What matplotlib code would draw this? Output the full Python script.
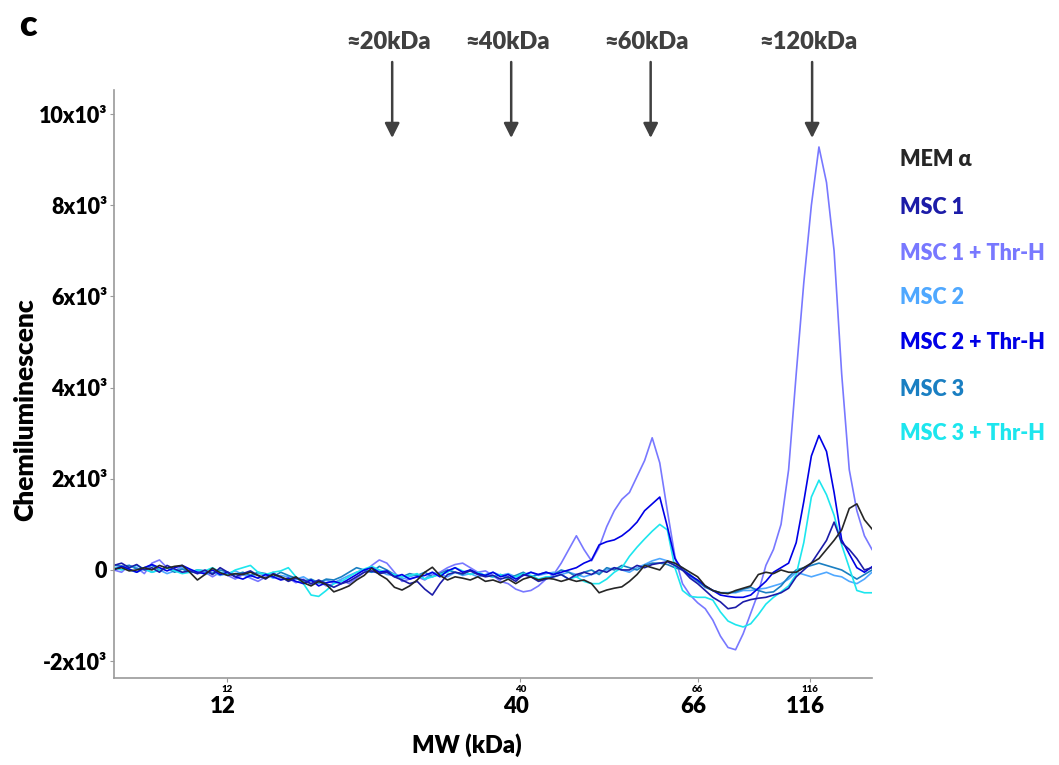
import matplotlib
matplotlib.use("Agg")
import matplotlib.pyplot as plt
import numpy as np

plt.rcParams['font.family'] = ['Lato', 'DejaVu Sans']
plt.rcParams['font.weight'] = 'heavy'
FW = 'heavy'

# lane position (arbitrary migration units, 0..100)
lane_pos = list(range(101))

# Chemiluminescence in thousands
mem_alpha = [
    0.02, 0.05, -0.02, 0.00, 0.05, 0.00, 0.10, 0.04, 0.08, 0.10,
    -0.05, -0.22, -0.10, 0.04, -0.06, -0.12, -0.08, -0.10, -0.05, -0.12,
    -0.18, -0.10, -0.15, -0.22, -0.15, -0.28, -0.35, -0.25, -0.32, -0.48,
    -0.42, -0.35, -0.22, -0.12, 0.04, -0.10, -0.20, -0.38, -0.44, -0.35,
    -0.22, -0.05, 0.06, -0.12, -0.22, -0.15, -0.18, -0.22, -0.15, -0.25,
    -0.22, -0.28, -0.20, -0.30, -0.20, -0.15, -0.22, -0.18, -0.20, -0.25,
    -0.20, -0.25, -0.22, -0.30, -0.50, -0.44, -0.40, -0.37, -0.25, -0.10,
    0.10, 0.05, 0.00, 0.20, 0.15, 0.05, -0.05, -0.15, -0.35, -0.45,
    -0.50, -0.52, -0.45, -0.40, -0.35, -0.10, -0.05, -0.08, 0.00, -0.05,
    -0.05, 0.05, 0.15, 0.25, 0.45, 0.65, 0.88, 1.35, 1.45, 1.10,
    0.90]

msc1 = [
    0.10, 0.15, 0.05, 0.12, 0.00, 0.05, -0.05, 0.10, 0.02, -0.05,
    -0.02, -0.08, 0.00, -0.10, 0.05, -0.05, -0.15, -0.08, -0.02, -0.12,
    -0.20, -0.08, -0.15, -0.25, -0.18, -0.22, -0.30, -0.22, -0.30, -0.38,
    -0.30, -0.25, -0.15, -0.05, -0.02, -0.08, -0.05, -0.15, -0.22, -0.30,
    -0.25, -0.42, -0.55, -0.30, -0.10, -0.05, -0.08, -0.02, -0.10, -0.15,
    -0.12, -0.20, -0.15, -0.25, -0.10, -0.15, -0.25, -0.20, -0.15, -0.10,
    -0.20, -0.10, -0.05, -0.10, 0.00, -0.05, 0.05, 0.00, 0.00, 0.10,
    0.05, 0.12, 0.15, 0.18, 0.10, 0.00, -0.18, -0.30, -0.45, -0.60,
    -0.70, -0.85, -0.82, -0.70, -0.65, -0.62, -0.60, -0.55, -0.50, -0.40,
    -0.15, 0.00, 0.15, 0.40, 0.65, 1.05, 0.60, 0.45, 0.25, 0.00,
    0.05]

msc1_thr = [
    0.00, -0.05, 0.10, 0.05, -0.08, 0.15, 0.22, 0.05, -0.02, 0.08,
    0.00, -0.08, -0.05, -0.15, -0.05, -0.12, -0.20, -0.10, -0.18, -0.25,
    -0.15, -0.05, -0.20, -0.18, -0.28, -0.20, -0.32, -0.25, -0.35, -0.30,
    -0.22, -0.30, -0.18, -0.05, 0.10, 0.22, 0.15, -0.05, -0.25, -0.20,
    -0.15, -0.22, -0.10, -0.05, 0.05, 0.12, 0.15, 0.05, -0.05, -0.02,
    -0.12, -0.25, -0.30, -0.42, -0.48, -0.45, -0.35, -0.20, -0.10, 0.15,
    0.45, 0.75, 0.45, 0.20, 0.50, 0.95, 1.30, 1.55, 1.70, 2.05,
    2.40, 2.90, 2.35, 1.30, 0.30, -0.30, -0.55, -0.72, -0.85, -1.10,
    -1.45, -1.70, -1.75, -1.40, -0.95, -0.50, 0.10, 0.45, 1.00, 2.20,
    4.30, 6.30, 8.00, 9.28, 8.50, 7.00, 4.30, 2.20, 1.30, 0.75,
    0.45]

msc2 = [
    0.05, 0.08, 0.00, -0.05, 0.02, -0.05, 0.00, -0.08, -0.02, 0.05,
    -0.05, -0.02, -0.10, -0.05, -0.12, -0.08, -0.02, -0.10, -0.15, -0.08,
    -0.10, -0.18, -0.12, -0.15, -0.20, -0.15, -0.25, -0.30, -0.22, -0.28,
    -0.20, -0.12, -0.05, 0.00, -0.05, -0.02, -0.10, -0.12, -0.20, -0.15,
    -0.10, -0.20, -0.05, -0.10, -0.15, -0.05, -0.12, -0.08, -0.15, -0.10,
    -0.05, -0.12, -0.08, -0.15, -0.10, -0.05, -0.12, -0.08, -0.05, -0.10,
    -0.05, -0.10, -0.15, -0.10, -0.05, 0.00, 0.05, 0.00, -0.05, 0.05,
    0.12, 0.20, 0.25, 0.20, 0.10, 0.05, -0.15, -0.25, -0.35, -0.45,
    -0.50, -0.50, -0.50, -0.45, -0.45, -0.42, -0.40, -0.35, -0.30, -0.20,
    -0.05, -0.10, -0.15, -0.10, -0.05, -0.12, -0.15, -0.25, -0.30, -0.20,
    -0.05]

msc2_thr = [
    0.00, 0.08, 0.02, -0.05, 0.05, 0.12, 0.05, -0.02, 0.05, 0.10,
    0.02, -0.05, -0.08, 0.00, -0.10, -0.05, -0.15, -0.20, -0.12, -0.18,
    -0.10, -0.15, -0.22, -0.18, -0.25, -0.30, -0.22, -0.35, -0.28, -0.25,
    -0.30, -0.20, -0.10, 0.00, 0.05, -0.05, -0.02, -0.15, -0.10, -0.20,
    -0.15, -0.12, -0.05, -0.15, -0.02, 0.05, -0.05, 0.00, -0.08, -0.12,
    -0.05, -0.15, -0.10, -0.20, -0.12, -0.05, -0.10, -0.05, -0.10, -0.05,
    0.00, 0.05, 0.15, 0.22, 0.55, 0.62, 0.66, 0.75, 0.88, 1.05,
    1.30, 1.45, 1.60, 0.95, 0.25, 0.00, -0.12, -0.22, -0.35, -0.45,
    -0.55, -0.58, -0.60, -0.60, -0.55, -0.40, -0.25, -0.05, 0.05, 0.15,
    0.60, 1.50, 2.50, 2.95, 2.60, 1.70, 0.66, 0.35, 0.05, -0.05,
    0.07]

msc3 = [
    0.12, 0.08, 0.10, 0.02, 0.05, 0.10, 0.00, 0.05, -0.05, 0.02,
    -0.05, 0.00, -0.02, -0.08, 0.00, -0.05, -0.10, -0.05, -0.12, -0.05,
    -0.08, -0.15, -0.05, -0.12, -0.18, -0.25, -0.20, -0.28, -0.20, -0.22,
    -0.15, -0.05, 0.05, 0.00, -0.05, 0.08, 0.00, -0.10, -0.15, -0.08,
    -0.12, -0.05, -0.15, -0.08, 0.00, -0.05, -0.10, 0.00, -0.08, -0.12,
    -0.15, -0.10, -0.18, -0.12, -0.05, -0.15, -0.10, -0.05, -0.10, 0.00,
    -0.05, -0.15, -0.05, 0.00, -0.10, 0.05, 0.00, 0.10, 0.05, 0.00,
    0.10, 0.15, 0.15, 0.12, 0.05, 0.00, -0.10, -0.25, -0.38, -0.45,
    -0.50, -0.50, -0.48, -0.42, -0.38, -0.45, -0.50, -0.48, -0.35, -0.15,
    0.00, 0.05, 0.10, 0.15, 0.10, 0.05, 0.00, -0.10, -0.20, -0.10,
    0.00]

msc3_thr = [
    0.05, 0.00, 0.05, 0.10, 0.02, -0.05, 0.00, 0.05, -0.02, -0.08,
    -0.05, 0.00, -0.02, 0.05, -0.05, -0.10, 0.00, 0.05, 0.10, -0.05,
    -0.10, -0.05, -0.02, 0.05, -0.15, -0.30, -0.55, -0.58, -0.45, -0.30,
    -0.25, -0.15, -0.05, 0.02, 0.08, 0.00, -0.05, -0.10, -0.15, -0.12,
    -0.08, -0.20, -0.15, -0.10, -0.05, 0.05, -0.02, -0.10, -0.05, -0.12,
    -0.15, -0.10, -0.20, -0.15, -0.08, -0.12, -0.20, -0.15, -0.15, -0.10,
    -0.20, -0.15, -0.25, -0.30, -0.30, -0.20, -0.05, 0.05, 0.30, 0.50,
    0.68, 0.85, 1.00, 0.88, 0.05, -0.45, -0.58, -0.60, -0.60, -0.66,
    -0.92, -1.12, -1.20, -1.25, -1.18, -0.98, -0.75, -0.60, -0.48, -0.35,
    -0.10, 0.60, 1.60, 1.97, 1.65, 1.20, 0.55, 0.05, -0.45, -0.50,
    -0.50]

series_names = ["MEM α", "MSC 1", "MSC 1 + Thr-H", "MSC 2",
                "MSC 2 + Thr-H", "MSC 3", "MSC 3 + Thr-H"]
series_colors = ["#262626", "#1c1ca8", "#7878ff", "#4fa8ff",
                 "#0000e6", "#1a7fc2", "#1de6ee"]
series_values = [mem_alpha, msc1, msc1_thr, msc2, msc2_thr, msc3, msc3_thr]

# marker positions (lane units) and labels
marker_pos = [14.9, 53.6, 77.0, 91.8]
marker_labels = ["12", "40", "66", "116"]

# peak annotations
peak_pos = [36.7, 52.4, 70.8, 92.1]
peak_labels = ["≈20kDa", "≈40kDa", "≈60kDa", "≈120kDa"]

y_ticks = [-2, 0, 2, 4, 6, 8, 10]
y_ticklabels = ["-2x10³", "0", "2x10³", "4x10³", "6x10³", "8x10³", "10x10³"]

W, H = 1059, 765
fig = plt.figure(figsize=(W / 100, H / 100), dpi=100)
ax = fig.add_axes([114 / W, (H - 678) / H, (872 - 114) / W, (678 - 90) / H])

draw_order = [2, 3, 5, 6, 4, 1, 0]
for i in draw_order:
    ax.plot(lane_pos, series_values[i], color=series_colors[i], lw=1.2)

ax.set_xlim(0, 100)
ax.set_ylim(-2.37, 10.53)
for s in ["top", "right"]:
    ax.spines[s].set_visible(False)
for s in ["left", "bottom"]:
    ax.spines[s].set_color("#9a9a9a")
    ax.spines[s].set_linewidth(1.2)

ax.set_yticks(y_ticks)
ax.set_yticklabels(y_ticklabels, fontsize=15.5, fontweight=FW)
ax.tick_params(axis='y', colors='#9a9a9a', length=3, labelcolor='black', pad=2)

ax.set_xticks(marker_pos)
ax.set_xticklabels(marker_labels, fontsize=7, fontweight=FW)
ax.tick_params(axis='x', colors='#9a9a9a', length=3, labelcolor='black', pad=2)

trans = ax.get_xaxis_transform()
for p, lab in zip(marker_pos, marker_labels):
    ax.text(p - 0.6, -0.048, lab, transform=trans, ha='center', va='center',
            fontsize=16, fontweight=FW, color='black')

fig.text(467 / W, 1 - 745 / H, "MW (kDa)", ha='center', va='center',
         fontsize=17, fontweight=FW)
fig.text(25 / W, 1 - 410 / H, "Chemiluminescenc", ha='center', va='center',
         rotation=90, fontsize=19, fontweight=FW)
fig.text(28 / W, 1 - 25 / H, "c", ha='center', va='center',
         fontsize=26, fontweight=FW)

for p, lab in zip(peak_pos, peak_labels):
    ax.annotate('', xy=(p, (678 - 138) / 588), xytext=(p, (678 - 62) / 588),
                xycoords=trans, textcoords=trans, annotation_clip=False,
                arrowprops=dict(arrowstyle='-|>', color='#404040', lw=1.8,
                                mutation_scale=22, shrinkA=0, shrinkB=0))
    ax.text(p - 0.5, (678 - 42) / 588, lab, transform=trans, ha='center',
            va='center', fontsize=17, fontweight=FW, color='#404040')

legend_y = [160, 207, 253, 298, 343, 389, 434]
for name, col, yy in zip(series_names, series_colors, legend_y):
    fig.text(900 / W, 1 - yy / H, name, ha='left', va='center',
             fontsize=15.5, fontweight=FW, color=col)

fig.savefig("out.png", dpi=100)
